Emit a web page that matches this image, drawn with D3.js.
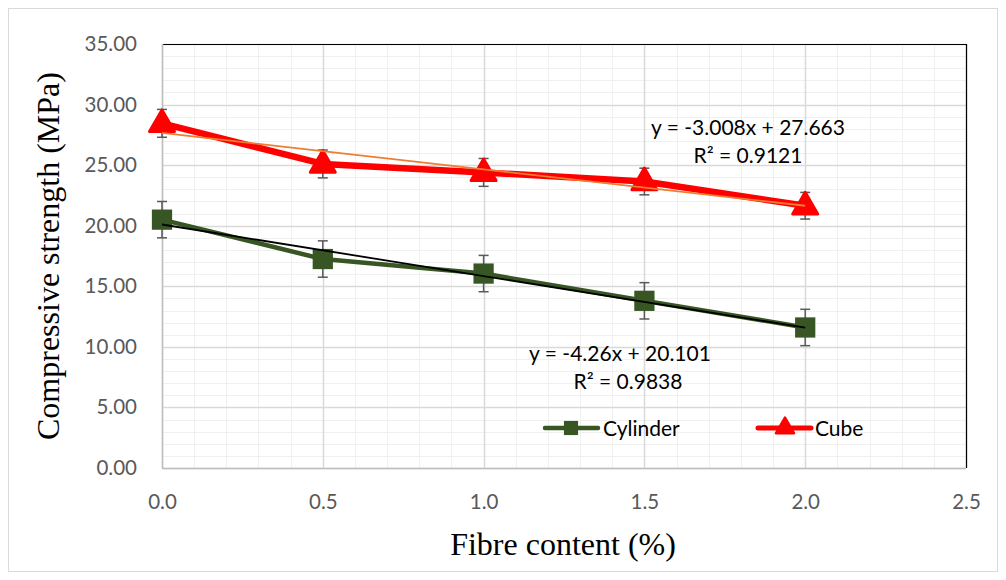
<!DOCTYPE html>
<html>
<head>
<meta charset="utf-8">
<script src="https://cdn.jsdelivr.net/npm/d3@7"></script>
<style>
  html, body { margin: 0; padding: 0; background: #fff; }
  svg { display: block; }
</style>
</head>
<body>
<svg id="chart" width="1006" height="580"></svg>
<script>
// Fibre content (%) and compressive strength (MPa)
const fibre = [0, 0.5, 1.0, 1.5, 2.0];
const cylinder = [20.5, 17.25, 16.05, 13.8, 11.6];
const cylinderErr = [1.5, 1.5, 1.5, 1.5, 1.5];
const cube = [28.45, 25.1, 24.4, 23.65, 21.65];
const cubeErr = [1.15, 1.15, 1.15, 1.1, 1.1];
const xTicks = [0, 0.5, 1.0, 1.5, 2.0, 2.5];
const yTicks = [0, 5, 10, 15, 20, 25, 30, 35];
// Linear trendlines (slope, intercept) and R²
const cylinderFit = { m: -4.26, b: 20.101, r2: "0.9838" };
const cubeFit = { m: -3.008, b: 27.663, r2: "0.9121" };

const svg = d3.select("#chart");
const plotL = 162, plotR = 966, plotT = 44, plotB = 468;

const x = d3.scaleLinear().domain([0, 2.5]).range([plotL, plotR]);
const y = d3.scaleLinear().domain([0, 35]).range([plotB, plotT]);

// Outer chart frame
svg.append("rect").attr("x", 8.5).attr("y", 8.5).attr("width", 989).attr("height", 563)
  .attr("fill", "#fff").attr("stroke", "#d9d9d9").attr("stroke-width", 1);

// Minor gridlines
const g = svg.append("g");
g.selectAll(".mx").data(d3.range(0, 2.5001, 0.1)).join("line")
  .attr("x1", d => Math.round(x(d)) + 0.5).attr("x2", d => Math.round(x(d)) + 0.5)
  .attr("y1", plotT).attr("y2", plotB).attr("stroke", "#f0f0f0").attr("stroke-width", 1);
g.selectAll(".my").data(d3.range(0, 35.001, 1)).join("line")
  .attr("y1", d => Math.round(y(d)) + 0.5).attr("y2", d => Math.round(y(d)) + 0.5)
  .attr("x1", plotL).attr("x2", plotR).attr("stroke", "#f0f0f0").attr("stroke-width", 1);
// Major gridlines
g.selectAll(".gx").data(xTicks).join("line")
  .attr("x1", d => Math.round(x(d)) + 0.5).attr("x2", d => Math.round(x(d)) + 0.5)
  .attr("y1", plotT).attr("y2", plotB).attr("stroke", "#d9d9d9").attr("stroke-width", 1.5);
g.selectAll(".gy").data(yTicks).join("line")
  .attr("y1", d => Math.round(y(d)) + 0.5).attr("y2", d => Math.round(y(d)) + 0.5)
  .attr("x1", plotL).attr("x2", plotR).attr("stroke", "#d9d9d9").attr("stroke-width", 1.5);

// Plot-area edges: black at top and right, grey axes at left and bottom
svg.append("line").attr("x1", plotL).attr("x2", plotR).attr("y1", plotT + 0.5).attr("y2", plotT + 0.5)
  .attr("stroke", "#000").attr("stroke-width", 1.2);
svg.append("line").attr("x1", plotR + 0.5).attr("x2", plotR + 0.5).attr("y1", plotT).attr("y2", plotB)
  .attr("stroke", "#000").attr("stroke-width", 1.2);
svg.append("line").attr("x1", plotL + 0.5).attr("x2", plotL + 0.5).attr("y1", plotT).attr("y2", plotB)
  .attr("stroke", "#bfbfbf").attr("stroke-width", 1.5);
svg.append("line").attr("x1", plotL).attr("x2", plotR).attr("y1", plotB + 0.5).attr("y2", plotB + 0.5)
  .attr("stroke", "#bfbfbf").attr("stroke-width", 1.5);

// Axes tick labels
const tickFont = "Lato, 'Open Sans', sans-serif";
const xAxis = d3.axisBottom(x).tickValues(xTicks).tickFormat(d3.format(".1f")).tickSize(0).tickPadding(26);
const xa = svg.append("g").attr("transform", `translate(0,${plotB})`).call(xAxis);
xa.select(".domain").remove();
xa.selectAll("text").attr("fill", "#595959").style("font-family", tickFont).style("font-size", "20.5px");

const yAxis = d3.axisLeft(y).tickValues(yTicks).tickFormat(d3.format(".2f")).tickSize(0).tickPadding(25);
const ya = svg.append("g").attr("transform", `translate(${plotL},0)`).call(yAxis);
ya.select(".domain").remove();
ya.selectAll("text").attr("fill", "#595959").style("font-family", tickFont).style("font-size", "20.5px");

// Axis titles
svg.append("text").attr("x", 563).attr("y", 555).attr("text-anchor", "middle")
  .style("font-family", "'Liberation Serif', 'Times New Roman', serif").style("font-size", "32px")
  .attr("fill", "#000").text("Fibre content (%)");
svg.append("text").attr("transform", "translate(59,256) rotate(-90)").attr("text-anchor", "middle")
  .style("font-family", "'Liberation Serif', 'Times New Roman', serif").style("font-size", "32px")
  .attr("fill", "#000").text("Compressive strength (MPa)");

// Error bars
function errorBars(vals, errs) {
  const eg = svg.append("g").attr("stroke", "#595959").attr("stroke-width", 1.5).attr("fill", "none");
  fibre.forEach((f, i) => {
    const cx = x(f), y1 = y(vals[i] + errs[i]), y2 = y(vals[i] - errs[i]);
    eg.append("line").attr("x1", cx).attr("x2", cx).attr("y1", y1).attr("y2", y2);
    eg.append("line").attr("x1", cx - 5).attr("x2", cx + 5).attr("y1", y1).attr("y2", y1);
    eg.append("line").attr("x1", cx - 5).attr("x2", cx + 5).attr("y1", y2).attr("y2", y2);
  });
}
errorBars(cylinder, cylinderErr);
errorBars(cube, cubeErr);

// Series lines
const line = d3.line().x(d => x(d[0])).y(d => y(d[1]));
const cylPts = fibre.map((f, i) => [f, cylinder[i]]);
const cubePts = fibre.map((f, i) => [f, cube[i]]);
svg.append("path").attr("d", line(cylPts)).attr("fill", "none")
  .attr("stroke", "#375623").attr("stroke-width", 4.5).attr("stroke-linejoin", "round");
svg.append("path").attr("d", line(cubePts)).attr("fill", "none")
  .attr("stroke", "#ff0000").attr("stroke-width", 6.5).attr("stroke-linejoin", "round");

// Markers
const square = d3.symbol().type(d3.symbolSquare).size(410);
const tri = d3.symbol().type(d3.symbolTriangle).size(270);
svg.append("g").selectAll("path").data(cylPts).join("path")
  .attr("d", square).attr("transform", d => `translate(${x(d[0])},${y(d[1])})`)
  .attr("fill", "#375623");
svg.append("g").selectAll("path").data(cubePts).join("path")
  .attr("d", tri).attr("transform", d => `translate(${x(d[0])},${y(d[1]) + 1})`)
  .attr("fill", "#ff0000").attr("stroke", "#ff0000").attr("stroke-width", 3).attr("stroke-linejoin", "round");

// Trendlines
const fitLine = (fit) => [[0, fit.b], [2, fit.m * 2 + fit.b]];
svg.append("path").attr("d", line(fitLine(cylinderFit))).attr("fill", "none")
  .attr("stroke", "#000").attr("stroke-width", 1.8);
svg.append("path").attr("d", line(fitLine(cubeFit))).attr("fill", "none")
  .attr("stroke", "#ed7d31").attr("stroke-width", 1.8);

// Trendline equations
const eqFont = "Lato, 'Open Sans', sans-serif";
function eq(cxp, cyp, fit, fmtSlope, rdx) {
  const t = svg.append("g").style("font-family", eqFont).style("font-size", "21px").attr("fill", "#000");
  t.append("text").attr("x", cxp).attr("y", cyp).attr("text-anchor", "middle")
    .text(`y = ${fmtSlope}x + ${fit.b}`);
  t.append("text").attr("x", cxp + rdx).attr("y", cyp + 28).attr("text-anchor", "middle")
    .text(`R² = ${fit.r2}`);
}
eq(748, 135, cubeFit, "-3.008", 0);
eq(620, 361, cylinderFit, "-4.26", 8);

// Legend
const lg = svg.append("g");
lg.append("line").attr("x1", 545).attr("x2", 598).attr("y1", 428).attr("y2", 428)
  .attr("stroke", "#375623").attr("stroke-width", 4.5).attr("stroke-linecap", "round");
lg.append("path").attr("d", d3.symbol().type(d3.symbolSquare).size(200)())
  .attr("transform", "translate(571,428)").attr("fill", "#375623");
lg.append("text").attr("x", 603).attr("y", 435.5).style("font-family", eqFont).style("font-size", "21px")
  .attr("fill", "#000").text("Cylinder");
lg.append("line").attr("x1", 758).attr("x2", 811).attr("y1", 428).attr("y2", 428)
  .attr("stroke", "#ff0000").attr("stroke-width", 5).attr("stroke-linecap", "round");
lg.append("path").attr("d", d3.symbol().type(d3.symbolTriangle).size(140)())
  .attr("transform", "translate(785,428)").attr("fill", "#ff0000").attr("stroke", "#ff0000")
  .attr("stroke-width", 2.5).attr("stroke-linejoin", "round");
lg.append("text").attr("x", 815).attr("y", 435.5).style("font-family", eqFont).style("font-size", "21px")
  .attr("fill", "#000").text("Cube");
</script>
</body>
</html>
